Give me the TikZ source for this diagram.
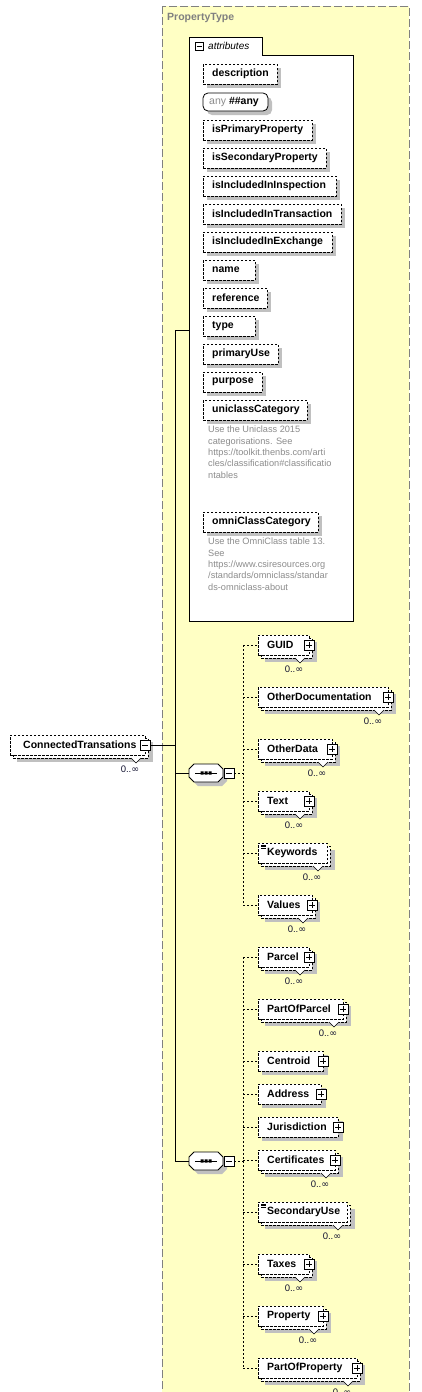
\documentclass[tikz,border=0pt]{standalone}
\usepackage{fontspec}
\setmainfont{Liberation Sans}
\newfontfamily\symfont{DejaVu Sans}
\usetikzlibrary{calc}
\definecolor{typebg}{RGB}{255,255,196}
\definecolor{typeborder}{RGB}{128,128,128}
\definecolor{shadowc}{RGB}{192,192,192}
\definecolor{desc}{RGB}{140,140,140}
\definecolor{multc}{RGB}{20,20,50}
\newcommand\efont{\fontsize{10.5}{12}\selectfont\bfseries}
\newcommand\mfont{\fontsize{9.5}{11}\selectfont}
\newcommand\dfont{\fontsize{9.2}{11.3}\selectfont}
\tikzset{
 ebox/.style={draw=black, fill=white, dash pattern=on 2.5pt off 1.5pt, line width=0.8pt, inner sep=0pt, minimum height=20pt},
 shad/.style={fill=shadowc},
 elabel/.style={anchor=west, inner sep=0pt, font=\efont},
 mult/.style={inner sep=0pt, font=\mfont, text=multc},
 pbox/.style={draw=black, fill=white, solid, line width=0.6pt, minimum size=10pt, inner sep=0pt},
 conn/.style={line width=0.8pt},
 dconn/.style={line width=0.8pt, dash pattern=on 2pt off 2pt},
}
% plus box
\newcommand\PlusBox[3]{\node[pbox] (#1) at (#2,#3) {};
 \draw[line width=0.6pt] (#2-3,#3) -- (#2+3,#3) (#2,#3-3) -- (#2,#3+3);}
\newcommand\MinusBox[3]{\node[pbox] (#1) at (#2,#3) {};
 \draw[line width=0.6pt] (#2-3,#3) -- (#2+3,#3);}
\newcommand\ListIcon[2]{\draw[line width=0.5pt] (#1,#2) -- (#1+5,#2) (#1,#2+1.7) -- (#1+5,#2+1.7) (#1,#2+3.4) -- (#1+5,#2+3.4);}
% attribute: name, left, y, right, label
\newcommand\Attr[5]{%
 \pgfmathsetmacro\ew{#4-#2}\pgfmathsetmacro\ecx{(#4+#2)/2}%
 \fill[shad] (#2+4,#3-6) rectangle (#4+4,#3+14);
 \node[ebox, minimum width=\ew pt] (#1) at (\ecx,#3) {};
 \node[elabel] (#1-t) at (#2+9,#3) {#5};}
% single element: name, left, y, right, label
\newcommand\SElem[5]{%
 \pgfmathsetmacro\ew{#4-#2}\pgfmathsetmacro\ecx{(#4+#2)/2}%
 \fill[shad] (#2+4,#3-6) rectangle (#4+5,#3+14);
 \node[ebox, minimum width=\ew pt] (#1) at (\ecx,#3) {};
 \node[elabel] (#1-t) at (#2+9,#3) {#5};
 \PlusBox{#1-p}{#4}{#3}}
% multi element: name, left, y, right, label, extra
\newcommand\MElem[6]{%
 \pgfmathsetmacro\ew{#4-#2}\pgfmathsetmacro\ecx{(#4+#2)/2}%
 \fill[shad] (#2+7,#3-3) rectangle (#4+8,#3+17);
 \draw[ebox] (#2+3,#3-7) rectangle (#4+3,#3+13);
 \node[ebox, minimum width=\ew pt] (#1) at (\ecx,#3) {};
 \node[elabel] (#1-t) at (#2+9,#3) {#5};
 \draw[fill=white, line width=0.6pt] (#4-14,#3+13) -- (#4-9,#3+18) -- (#4-4,#3+13);
 \node[mult] (#1-m) at (#4-15,#3+24) {0..{\symfont ∞}};
 #6}
% sequence: name, cx, cy
\newcommand\Seq[3]{%
 \fill[shad] (#2-17+4+5,#3-9+4) -- (#2+17+4-5,#3-9+4) -- (#2+17+4,#3-4+4) -- (#2+17+4,#3+4+4) -- (#2+17+4-5,#3+9+4) -- (#2-17+4+5,#3+9+4) -- (#2-17+4,#3+4+4) -- (#2-17+4,#3-4+4) -- cycle;
 \node[minimum width=34pt, minimum height=18pt, inner sep=0pt] (#1) at (#2,#3) {};
 \draw[fill=white, line width=0.8pt] (#2-12,#3-9) -- (#2+12,#3-9) -- (#2+17,#3-4) -- (#2+17,#3+4) -- (#2+12,#3+9) -- (#2-12,#3+9) -- (#2-17,#3+4) -- (#2-17,#3-4) -- cycle;
 \draw[line width=0.9pt] (#2-11,#3) -- (#2+11,#3);
 \fill (#2-5.5,#3-1.6) rectangle (#2-2.5,#3+1.6) (#2-1.5,#3-1.6) rectangle (#2+1.5,#3+1.6) (#2+2.5,#3-1.6) rectangle (#2+5.5,#3+1.6);
 \MinusBox{#1-m}{#2+23}{#3}}

\begin{document}
\begin{tikzpicture}[x=1pt, y=-1pt]
\useasboundingbox (0,0) rectangle (421,1392);
\fill[white] (0,0) rectangle (421,1392);
% type box
\draw[fill=typebg, draw=typeborder, dash pattern=on 8pt off 3pt, line width=0.9pt] (162,6) rectangle (409,1400);
\node[anchor=west, inner sep=0pt, font=\fontsize{10.5}{12}\selectfont\bfseries, text=typeborder] (ptl) at (167,18) {PropertyType};
% attributes box
\draw[fill=white, line width=0.8pt] (189,37) -- (262,37) -- (262,55) -- (353,55) -- (353,621) -- (189,621) -- cycle;
\coordinate (attrw) at (189,330);
\node[draw, fill=white, minimum size=8pt, inner sep=0pt, line width=0.6pt] (attrm) at (199,46) {};
\draw[line width=0.6pt] (196.5,46) -- (201.5,46);
\node[anchor=west, inner sep=0pt, font=\fontsize{10}{12}\selectfont\itshape] (attrl) at (208,46) {attributes};
% attributes
\Attr{a1}{203}{74}{277}{description}
\fill[shad, rounded corners=5pt] (207,97) rectangle (272,115);
\node[draw, fill=white, rounded corners=5pt, line width=0.8pt, minimum width=65pt, minimum height=18pt, inner sep=0pt] (a2) at (235.5,102) {};
\node[anchor=west, inner sep=0pt, font=\efont] (a2-t) at (209,102) {{\mdseries\color{desc}any}\ \#\#any};
\Attr{a3}{203}{130}{312}{isPrimaryProperty}
\Attr{a4}{203}{158}{326}{isSecondaryProperty}
\Attr{a5}{203}{186}{336}{isIncludedInInspection}
\Attr{a6}{203}{214}{341}{isIncludedInTransaction}
\Attr{a7}{203}{242}{332}{isIncludedInExchange}
\Attr{a8}{203}{270}{255}{name}
\Attr{a9}{203}{298}{267}{reference}
\Attr{a10}{203}{326}{255}{type}
\Attr{a11}{203}{354}{278}{primaryUse}
\Attr{a12}{203}{382}{262}{purpose}
\Attr{a13}{203}{410}{307}{uniclassCategory}
\node[anchor=north west, align=left, inner sep=0pt, font=\dfont, text=desc] (d13) at (208,426) {Use the Uniclass 2015\\categorisations. See\\https://toolkit.thenbs.com/arti\\cles/classification\#classificatio\\ntables};
\Attr{a14}{203}{522}{318}{omniClassCategory}
\node[anchor=north west, align=left, inner sep=0pt, font=\dfont, text=desc] (d14) at (208,538) {Use the OmniClass table 13.\\See\\https://www.csiresources.org\\/standards/omniclass/standar\\ds-omniclass-about};
% root element
\MElem{ct}{10}{745}{145}{\hspace{4pt}ConnectedTransations}{\MinusBox{ct-x}{145}{745}}
% main connectors
\coordinate (J) at (175,745);
\coordinate (Jtop) at (175,330);
\coordinate (Jbot) at (175,1161);
\draw[conn] (ct-x.east) -- (J);
\draw[conn] (Jtop) -- (Jbot);
\draw[conn] (Jtop) -- (attrw);
% sequences
\Seq{sA}{206}{773}
\Seq{sB}{206}{1161}
\draw[conn] (sA.west -| J) -- (sA.west);
\draw[conn] (Jbot) -- (sB.west);
% sequence A children
\MElem{guid}{258}{645}{309}{GUID}{\PlusBox{guid-p}{309}{645}}
\MElem{odoc}{258}{697}{388}{OtherDocumentation}{\PlusBox{odoc-p}{388}{697}}
\MElem{odat}{258}{749}{332}{OtherData}{\PlusBox{odat-p}{332}{749}}
\MElem{text}{258}{801}{309}{Text}{\PlusBox{text-p}{309}{801}}
\MElem{kw}{258}{853}{327}{Keywords}{\ListIcon{261}{845}}
\MElem{val}{258}{905}{312}{Values}{\PlusBox{val-p}{312}{905}}
\coordinate (bA) at (243,773);
\coordinate (bAtop) at (243,645);
\coordinate (bAbot) at (243,905);
\draw[dconn] (sA-m.east) -- (bA);
\draw[dconn] (bAtop) -- (bAbot);
\foreach \n in {guid,odoc,odat,text,kw,val} \draw[dconn] (\n.west -| bA) -- (\n.west);
% sequence B children
\MElem{par}{258}{957}{309}{Parcel}{\PlusBox{par-p}{309}{957}}
\MElem{pop}{258}{1009}{343}{PartOfParcel}{\PlusBox{pop-p}{343}{1009}}
\SElem{cen}{258}{1061}{323}{Centroid}
\SElem{adr}{258}{1094}{321}{Address}
\SElem{jur}{258}{1127}{338}{Jurisdiction}
\MElem{cer}{258}{1160}{335}{Certificates}{\PlusBox{cer-p}{335}{1160}}
\MElem{sec}{258}{1212}{347}{SecondaryUse}{\ListIcon{261}{1204}}
\MElem{tax}{258}{1264}{309}{Taxes}{\PlusBox{tax-p}{309}{1264}}
\MElem{prp}{258}{1316}{323}{Property}{\PlusBox{prp-p}{323}{1316}}
\MElem{popr}{258}{1368}{357}{PartOfProperty}{\PlusBox{popr-p}{357}{1368}}
\coordinate (bB) at (243,1161);
\coordinate (bBtop) at (243,957);
\coordinate (bBbot) at (243,1368);
\draw[dconn] (sB-m.east) -- (bB);
\draw[dconn] (bBtop) -- (bBbot);
\foreach \n in {par,pop,cen,adr,jur,cer,sec,tax,prp,popr} \draw[dconn] (\n.west -| bB) -- (\n.west);
\end{tikzpicture}
\end{document}
